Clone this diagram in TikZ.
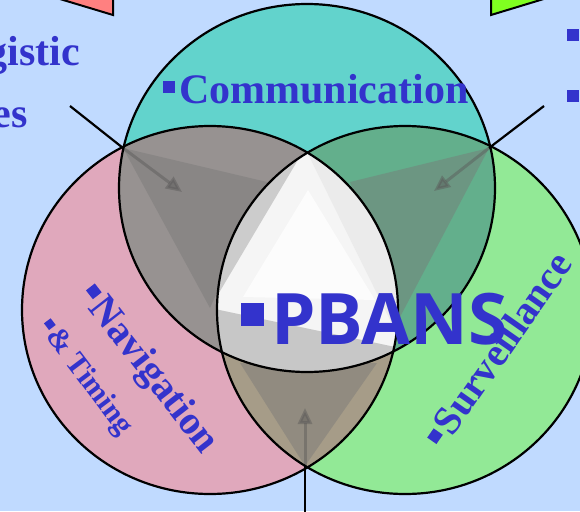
\documentclass[tikz,border=0pt]{standalone}
\usepackage{fontspec}
\setmainfont{Liberation Serif}
\newfontfamily\pbansfont{Open Sans}
\usetikzlibrary{arrows.meta}
\definecolor{bgblue}{RGB}{192,218,255}
\definecolor{commteal}{RGB}{98,211,204}
\definecolor{navpink}{RGB}{224,168,188}
\definecolor{survgreen}{RGB}{146,233,150}
\definecolor{lensgrey}{RGB}{151,146,145}
\definecolor{lensgreen}{RGB}{99,175,140}
\definecolor{lenstan}{RGB}{166,156,136}
\definecolor{pbblue}{RGB}{51,51,204}
\definecolor{flagred}{RGB}{255,128,128}
\definecolor{flaggreen}{RGB}{128,255,32}
\newcommand{\sqbul}{\rule[0.24em]{0.28em}{0.28em}\hspace{0.1em}}
\def\circT{(307,188) ellipse [x radius=188, y radius=184]}
\def\circL{(210,310) ellipse [x radius=188, y radius=184]}
\def\circR{(405,310) ellipse [x radius=188, y radius=184]}

\begin{document}
\begin{tikzpicture}[x=1pt, y=-1pt,
    venntext/.style={text=pbblue, font=\bfseries, inner sep=0pt},
    darktri/.style={fill={rgb,255:red,120;green,120;blue,120}, fill opacity=0.45},
    inarrow/.style={-{Triangle[length=16pt,width=14pt]}, line width=3pt, opacity=0.45, draw={rgb,255:red,90;green,88;blue,88}},
    outline/.style={draw=black, line width=2.2pt}]
    \useasboundingbox (0,0) rectangle (580,511);
    \fill[bgblue] (0,0) rectangle (580,511);

    \filldraw[fill=flagred, draw=black, line width=2pt] (40,-7) -- (113,15) -- (113,-10) -- cycle;
    \filldraw[fill=flaggreen, draw=black, line width=2pt] (491,-10) -- (491,15) -- (570,-9) -- cycle;

    \fill[commteal] \circT;
    \fill[navpink] \circL;
    \fill[survgreen] \circR;

    \coordinate (tl) at (123,148);
    \coordinate (tr) at (489,148);
    \coordinate (bt) at (305,466);
    \coordinate (tlhead) at (182,192);
    \coordinate (trhead) at (434,191);
    \coordinate (bthead) at (305,408);
    \coordinate (tlend) at (70,106);
    \coordinate (trend) at (544,106);
    \coordinate (btend) at (305,515);

    \begin{scope}
        \clip \circT; \clip \circL;
        \fill[lensgrey] \circT;
        \fill[darktri] (tl) -- (267,182) -- (210,308) -- cycle;
    \end{scope}
    \begin{scope}
        \clip \circT; \clip \circR;
        \fill[lensgreen] \circT;
        \fill[darktri] (tr) -- (350,182) -- (400,317) -- cycle;
    \end{scope}
    \begin{scope}
        \clip \circL; \clip \circR;
        \fill[lenstan] \circL;
        \fill[darktri] (bt) -- (240,363) -- (377,363) -- cycle;
    \end{scope}

    \draw[inarrow] (tl) -- (tlhead);
    \draw[inarrow] (tr) -- (trhead);
    \draw[inarrow] (bt) -- (bthead);

    \begin{scope}
        \clip \circT; \clip \circL; \clip \circR;
        \fill[black!4] (200,140) rectangle (410,380);
        \fill[black!8] (305,148) -- (395,330) -- (450,330) -- (450,140) -- cycle;
        \fill[black!20] (305,148) -- (210,308) -- (150,308) -- (150,140) -- cycle;
        \fill[black!1] (308,190) -- (243,297) -- (375,300) -- cycle;
        \fill[black!22] (210,308) -- (400,348) -- (400,400) -- (200,400) -- cycle;
    \end{scope}

    \draw[outline] \circT;
    \draw[outline] \circL;
    \draw[outline] \circR;

    \draw[black, line width=2.2pt] (tlend) -- (tl);
    \draw[black, line width=2.2pt] (trend) -- (tr);
    \draw[black, line width=2.2pt] (btend) -- (bt);

    \node[venntext, font=\bfseries\fontsize{42}{42}\selectfont, anchor=base west] (comm) at (163,103) {\sqbul Communication};
    \node[venntext, font=\bfseries\fontsize{42}{42}\selectfont, anchor=base east] (logi) at (80,65) {gistic};
    \node[venntext, font=\bfseries\fontsize{42}{42}\selectfont, anchor=base east] (serv) at (28,127) {es};
    \node[fill=pbblue, minimum size=12pt, inner sep=0pt] (bul1) at (573,35) {};
    \node[fill=pbblue, minimum size=12pt, inner sep=0pt] (bul2) at (573,96) {};

    \node[venntext, font=\pbansfont\bfseries\fontsize{71}{71}\selectfont, anchor=base west] (pbans) at (241,344) {\rule[0.26em]{0.32em}{0.32em}\hspace{0.1em}PBANS};
    \node[venntext, font=\bfseries\fontsize{40}{40}\selectfont, rotate=-52] (nav) at (148,370) {\sqbul Navigation};
    \node[venntext, font=\bfseries\fontsize{30}{30}\selectfont, rotate=-53] (timing) at (85,378) {\sqbul\& Timing};
    \node[venntext, font=\bfseries\fontsize{40}{40}\selectfont, rotate=55] (surv) at (498,349) {\sqbul Surveillance};
\end{tikzpicture}
\end{document}
